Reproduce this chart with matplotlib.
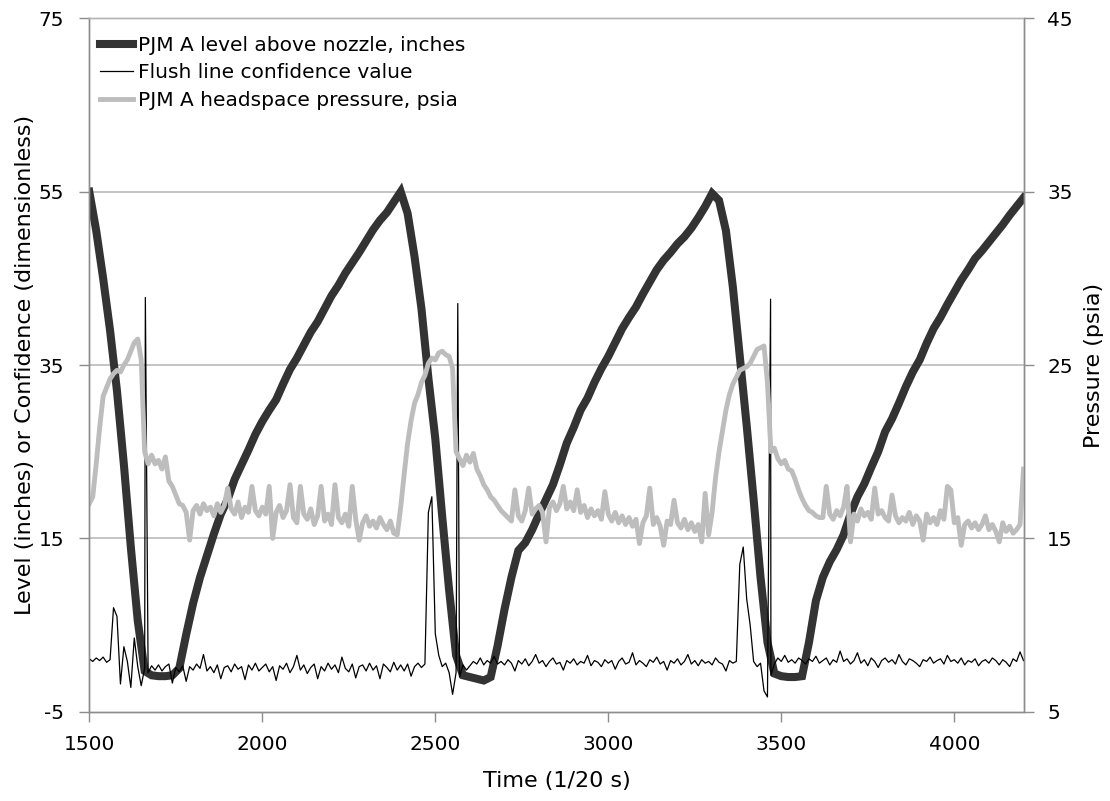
import numpy as np
import matplotlib.pyplot as plt

# Level above nozzle (inches), sampled every 20 time units from 1500 to 4200
level_t = np.arange(1500, 4201, 20)
level = [
    55.0, 50.5, 45.0, 39.0, 32.0, 23.5, 14.0, 5.5, -0.3, -0.8,
    -0.9, -0.9, -0.8, 0.0, 3.9, 7.5, 10.5, 13.0, 15.5, 17.8,
    19.5, 21.8, 23.5, 25.2, 27.0, 28.5, 29.8, 31.0, 32.8, 34.5,
    35.8, 37.3, 38.8, 40.0, 41.5, 43.0, 44.2, 45.6, 46.8, 48.0,
    49.3, 50.6, 51.7, 52.6, 53.8, 55.0, 52.5, 47.5, 41.5, 33.5,
    26.5, 17.5, 9.0, 1.5, -0.8, -1.0, -1.2, -1.4, -1.0, 2.6,
    6.8, 10.5, 13.6, 14.5, 16.0, 17.8, 19.5, 21.2, 23.5, 26.0,
    27.8, 29.8, 31.2, 33.0, 34.6, 36.0, 37.6, 39.2, 40.5, 41.7,
    43.2, 44.6, 46.0, 47.1, 48.0, 49.0, 49.8, 50.8, 52.0, 53.3,
    54.8, 54.0, 50.5, 44.0, 36.0, 28.0, 19.5, 10.5, 3.0, -0.6,
    -0.9, -1.0, -1.0, -0.9, 3.0, 7.8, 10.5, 12.3, 13.7, 15.4,
    17.8, 19.8, 21.3, 23.2, 25.0, 27.3, 28.8, 30.6, 32.5, 34.2,
    35.6, 37.5, 39.2, 40.5, 42.0, 43.4, 44.8, 46.0, 47.3, 48.2,
    49.2, 50.2, 51.2, 52.3, 53.3, 54.3,
]

# Flush line confidence value, every 10 time units
conf_t = np.arange(1500, 4201, 10)
conf = [
    1.1, 0.8, 1.2, 0.9, 1.3, 0.7, 1.0, 7.0, 6.0, -1.8,
    2.5, 0.8, -2.2, 3.5, 0.2, -2.0, 0.0, -0.5, 0.3, -0.2,
    0.4, -0.3, 0.2, 0.5, -1.7, 0.1, -0.4, 0.3, -1.5, 0.2,
    -0.2, 0.5, 0.0, 1.6, -0.3, 0.2, -0.5, 0.4, -1.2, 0.1,
    0.3, -0.4, 0.5, -0.1, 0.2, -1.3, 0.4, -0.2, 0.6, -0.3,
    0.1, 0.5, -0.4, 0.2, -1.4, 0.3, -0.1, 0.6, -0.5, 0.2,
    1.5, -0.2, 0.4, -0.6, 0.1, 0.5, -1.2, 0.2, -0.3, 0.6,
    -0.1, 0.4, -0.5, 1.3, 0.0, -0.4, 0.5, -1.1, 0.2, 0.4,
    -0.3, 0.6, -0.2, 0.3, -1.2, 0.5, 0.1, -0.4, 0.7, -0.2,
    0.4, -0.3, 0.5, -0.9, 0.2, 0.6, 0.1, 0.5, 18.0, 19.8,
    4.0, 1.5, 0.2, 0.6, -0.5, -3.0, -0.5, -1.0, 0.4, -0.2,
    0.3, 0.8, 0.5, 1.2, 0.4, 0.9, 0.6, 1.4, 0.5, 0.8,
    0.4, 1.0, 0.6, -0.3, 0.9, 0.5, 1.1, 0.3, 0.8, 1.6,
    0.6, 0.9, 0.2, 0.8, 1.2, 0.5, 0.7, -0.2, 0.9, 0.6,
    1.1, 0.4, 0.8, 0.6, 1.5, 0.3, 0.9, 0.7, 0.2, 1.0,
    0.6, 0.9, -0.1, 0.8, 1.2, 0.5, 0.7, 1.8, 0.4, 0.9,
    0.6, 0.2, 1.0, 0.7, 1.3, 0.5, 0.8, -0.2, 0.9, 0.6,
    1.1, 0.4, 0.8, 1.6, 0.5, 0.9, 0.3, 1.0, 0.6, 0.8,
    0.4, 1.2, 0.7, 0.5, -0.3, 0.9, 0.6, 0.8, 12.0, 14.0,
    8.0, 5.0, 0.8, 0.2, 0.6, -2.6, -3.3, -0.8, 0.5, 1.2,
    0.8, 1.5, 0.7, 1.0, 0.6, 1.2, 0.9, 0.5, 1.1, 0.8,
    1.4, 0.6, 0.9, 1.2, 0.4, 1.0, 0.7, 2.0, 0.8, 1.1,
    0.5, 0.9, 1.8, 0.6, 1.0, 0.3, 1.2, 0.8, 0.1, 0.9,
    1.2, 0.7, 1.0, 0.5, 1.6, 0.8, 0.4, 1.1, 0.9, 0.6,
    0.2, 1.0, 0.8, 1.3, 0.6, 0.9, 1.1, 0.5, 1.5, 0.8,
    1.0, 0.6, 1.2, 0.4, 0.9, 0.7, 1.1, 0.3, 0.8, 1.0,
    0.6, 1.2, 0.9, 0.4, 1.0, 0.7, 0.2, 1.1, 0.8, 1.9,
    0.9,
]
# the three tall confidence spikes (single samples)
spike_t = [1662, 2565, 3469]
spike_v = [42.8, 42.1, 42.6]

# Headspace pressure (psia), every 10 time units
press_t = np.arange(1500, 4201, 10)
press = [
    17.0, 17.4, 19.3, 21.4, 23.2, 23.7, 24.2, 24.5, 24.7, 24.6,
    25.0, 25.3, 25.8, 26.3, 26.5, 25.3, 20.0, 19.3, 19.8, 19.3,
    19.5, 19.0, 19.7, 18.3, 18.0, 17.5, 17.0, 16.9, 16.5, 14.9,
    16.6, 16.9, 16.4, 17.0, 16.6, 16.8, 16.3, 17.0, 16.5, 16.9,
    17.9, 16.7, 16.4, 17.1, 16.2, 16.8, 16.5, 18.0, 16.6, 16.3,
    16.8, 16.4, 18.0, 15.0, 16.5, 16.9, 16.2, 16.6, 18.1, 16.2,
    15.9, 18.0, 16.4, 16.1, 16.7, 15.8, 16.3, 18.0, 16.0, 16.4,
    15.8, 18.1, 16.2, 15.9, 16.4, 15.7, 18.0, 16.1, 14.9, 15.9,
    16.3, 15.7, 16.0, 15.6, 16.2, 15.8, 15.5, 16.0, 15.3, 15.2,
    16.8, 18.7, 20.5, 21.8, 22.8, 23.3, 24.0, 24.4, 25.1, 25.4,
    25.3, 25.7, 25.8, 25.6, 25.5, 24.8, 20.0, 19.6, 19.2, 19.8,
    19.4, 19.9, 19.0, 18.6, 18.1, 17.8, 17.4, 17.2, 16.9, 16.6,
    16.4, 16.2, 16.0, 17.8, 16.3, 16.0, 16.6, 17.9, 16.4, 16.7,
    16.9, 16.5, 14.8, 16.8, 17.1, 16.6, 17.0, 18.0, 16.7, 17.1,
    16.6, 17.8, 16.5, 16.9, 16.2, 16.7, 16.3, 16.6, 16.1, 17.7,
    16.4, 16.0, 16.5, 15.9, 16.3, 15.8, 16.2, 15.7, 16.1, 14.7,
    15.9, 16.3, 17.9, 15.8, 16.2, 15.7, 14.6, 16.0, 15.8, 17.2,
    15.9, 15.6, 16.1, 15.5, 15.9, 15.4, 15.8, 14.8, 17.6, 15.2,
    16.5, 18.5, 20.0, 21.2, 22.4, 23.3, 23.9, 24.3, 24.7, 24.8,
    24.9, 25.1, 25.5, 25.9, 26.0, 26.1, 24.0, 20.0, 20.2, 19.6,
    19.3, 19.5, 19.0, 18.9, 18.4, 17.8, 17.3, 16.9, 16.6, 16.5,
    16.3, 16.2, 16.2, 18.0, 16.4, 16.1, 16.6, 16.3, 16.8, 18.0,
    14.8, 16.4, 16.0, 16.7, 16.3, 16.5, 16.1, 17.9, 16.4, 16.6,
    16.2, 16.0, 17.5, 16.3, 15.9, 16.2, 16.0, 16.5, 15.8, 16.3,
    16.0, 14.9, 16.4, 15.9, 16.2, 15.8, 16.6, 16.1, 18.0, 17.8,
    15.9, 16.2, 14.6, 15.8, 16.0, 15.6, 15.9, 15.5, 15.8, 16.3,
    15.5, 15.8, 15.4, 14.8, 15.9, 15.4, 15.7, 15.3, 15.5, 15.8,
    19.0,
]

assert len(level) == len(level_t)
assert len(conf) == len(conf_t)
assert len(press) == len(press_t)

# merge spikes into confidence trace
ct = np.concatenate([conf_t, spike_t])
cv = np.concatenate([conf, spike_v])
order = np.argsort(ct, kind='stable')
ct, cv = ct[order], cv[order]

plt.rcParams['font.family'] = ['DejaVu Sans']
plt.rcParams['font.size'] = 14
plt.rcParams['axes.unicode_minus'] = False

W, H = 1110, 801
fig = plt.figure(figsize=(W / 100, H / 100), dpi=100)
left, right, top, bottom = 89.3, 1023.5, 18.4, 711.7
ax1 = fig.add_axes([left / W, 1 - bottom / H, (right - left) / W, (bottom - top) / H])

grid_c = '#b4b4b4'
spine_c = '#8c8c8c'

for y in [15, 35, 55]:
    ax1.axhline(y, color=grid_c, lw=1.1, zorder=0)

l1, = ax1.plot(level_t, level, color='#333333', lw=5.8, solid_joinstyle='miter',
               label='PJM A level above nozzle, inches', zorder=2)
l2, = ax1.plot(ct, cv, color='black', lw=0.9, label='Flush line confidence value', zorder=3)

ax1.set_xlim(1500, 4200)
ax1.set_ylim(-5, 75)
ax1.set_xticks([1500, 2000, 2500, 3000, 3500, 4000])
ax1.set_yticks([-5, 15, 35, 55, 75])
ax1.set_xlabel('Time (1/20 s)', fontsize=16, labelpad=12)
ax1.set_ylabel('Level (inches) or Confidence (dimensionless)', fontsize=16, labelpad=3)

ax2 = ax1.twinx()
l3, = ax2.plot(press_t, press, color='#bdbdbd', lw=3.5, label='PJM A headspace pressure, psia')
ax2.set_ylim(5, 45)
ax2.set_yticks([5, 15, 25, 35, 45])
ax2.set_ylabel('Pressure (psia)', fontsize=16, labelpad=8)

for a in (ax1, ax2):
    for s in a.spines.values():
        s.set_color(spine_c)
        s.set_linewidth(1.0)
    a.spines['top'].set_color(grid_c)
    a.tick_params(direction='out', length=7, width=1, color=spine_c, labelsize=14.5)
ax1.tick_params(axis='x', pad=10)
ax1.tick_params(axis='y', pad=11)
ax2.tick_params(axis='y', pad=10)

ax2.legend(handles=[l1, l2, l3], loc='upper left', bbox_to_anchor=(0.0115, 0.975),
           frameon=False, borderaxespad=0, borderpad=0, handlelength=1.65,
           handletextpad=0.25, labelspacing=0.42, fontsize=14.5)

fig.savefig('out.png', dpi=100)
